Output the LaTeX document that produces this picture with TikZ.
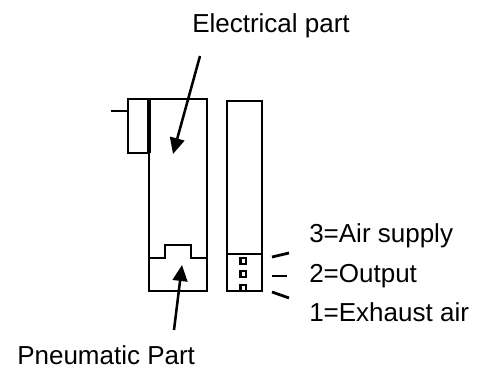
\documentclass[tikz,border=0pt]{standalone}
\usepackage{fontspec}
\setmainfont{Liberation Sans}
\usetikzlibrary{arrows.meta}
\tikzset{
  x=0.75pt,y=-0.75pt,
  shapeline/.style={draw=black,line width=2.1pt,line cap=butt,line join=miter},
  pointer/.style={draw=black,line width=1.9pt,-{Triangle[length=12pt,width=11pt]}},
  lab/.style={inner sep=0pt,font=\fontsize{19.5}{22}\selectfont,anchor=base west,text=black}
}
\begin{document}
\begin{tikzpicture}
\useasboundingbox (0,0) rectangle (487,367);
\node[lab] (elec) at (192,33) {Electrical part};
\node[lab] (pneu) at (17,364.5) {Pneumatic Part};
\node[lab] (air) at (309,243) {3=Air supply};
\node[lab] (out) at (309,282.5) {2=Output};
\node[lab] (exh) at (309,321.5) {1=Exhaust air};
\coordinate (e1) at (200,56); \coordinate (e2) at (173,154);
\coordinate (p1) at (174,330); \coordinate (p2) at (182,265);
\draw[shapeline] (149,99) rectangle (207,291);
\draw[shapeline] (149,99) -- (128,99) -- (128,153) -- (149,153);
\draw[shapeline,line width=3pt] (149,99) -- (149,153);
\draw[shapeline] (128,111) -- (111,111);
\draw[shapeline] (227,101) rectangle (262,291);
\draw[shapeline] (227,254) -- (262,254);
\draw[shapeline] (149,258) -- (165,258) -- (165,245) -- (191,245) -- (191,258) -- (207,258);
\draw[shapeline,line width=1.8pt] (240.5,258) rectangle (246,264);
\draw[shapeline,line width=1.8pt] (240.5,271) rectangle (246,277);
\draw[shapeline,line width=1.8pt] (240.5,285) rectangle (246,291);
\draw[shapeline] (272,257) -- (289,253);
\draw[shapeline] (272,276) -- (287,276);
\draw[shapeline] (272,292) -- (289,298);
\draw[pointer] (e1) -- (e2);
\draw[pointer] (p1) -- (p2);
\end{tikzpicture}
\end{document}
